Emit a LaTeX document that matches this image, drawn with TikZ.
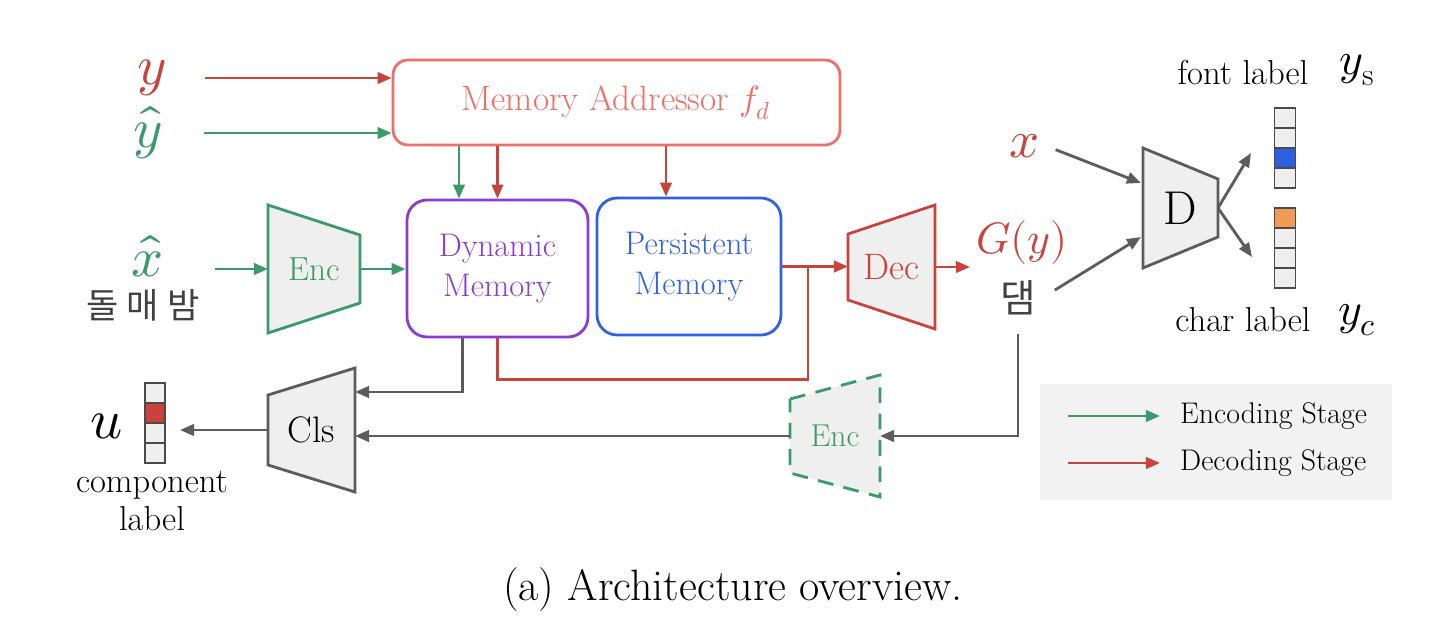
\documentclass[tikz,border=0pt]{standalone}
\usepackage{fontspec}
\usepackage{unicode-math}
\setmathfont{Latin Modern Math}
\newfontfamily\krfont{Noto Sans CJK KR}
\usetikzlibrary{arrows.meta,calc,positioning}

\definecolor{encgreen}{HTML}{3B9A6C}
\definecolor{decred}{HTML}{C7433C}
\definecolor{addrred}{HTML}{EC6F68}
\definecolor{dynpurple}{HTML}{8A3CCF}
\definecolor{perblue}{HTML}{2F62E3}
\definecolor{netgray}{HTML}{5C5C5C}
\definecolor{netfill}{HTML}{EFEFEF}
\definecolor{legendbg}{HTML}{F2F2F2}
\definecolor{hotorange}{HTML}{F09A55}
\definecolor{hotblue}{HTML}{2E5FE0}
\definecolor{hotred}{HTML}{C8433C}

\newcommand{\fsz}[2]{\fontsize{#1pt}{#2pt}\selectfont}

% trapezoid block: name, x left, x right, y centre, half height left, half height right, style, text
\newcommand{\trapblock}[8]{%
  \draw[#7] (#2,#4-#5) -- (#3,#4-#6) -- (#3,#4+#6) -- (#2,#4+#5) -- cycle;
  \coordinate (#1-w) at (#2,#4);
  \coordinate (#1-e) at (#3,#4);
  \node (#1) at ({(#2+#3)/2},#4) {#8};
}

\tikzset{
  arr/.style={-{Triangle[length=8pt,width=6.5pt]}, line width=1.6pt},
  encarr/.style={arr, encgreen},
  decarr/.style={arr, decred},
  grayarr/.style={arr, netgray},
  membox/.style={draw, line width=1.6pt, rounded corners=0.4cm, align=center,
    minimum height=2.74cm, font=\fsz{18.6}{23}},
  netblock/.style={line width=1.6pt, fill=netfill},
  cell/.style={draw=netgray!80!black, line width=1.1pt, minimum width=0.42cm,
    minimum height=0.4cm, inner sep=0pt},
  lbl/.style={font=\fsz{19.7}{20}, inner sep=1pt},
}

\begin{document}
\begin{tikzpicture}[x=0.02cm,y=-0.02cm]
\useasboundingbox (0,0) rectangle (1448,622);

% inputs
\node[text=decred, font=\fsz{32}{32}] (ylab) at (152,78) {$y$};
\node[text=encgreen, font=\fsz{32}{32}] (yhat) at (148,133) {$\hat{y}$};
\node[text=encgreen, font=\fsz{32}{32}] (xhat) at (148,256) {$\widehat{x}$};
\node[text=netgray!70!black, font=\krfont\fsz{20}{20}] (krin) at (143,305) {돌 매 밤};
\coordinate (xhat-out) at (215,269);

% memory
\node[draw=addrred, text=addrred, line width=1.6pt, rounded corners=0.3cm,
  minimum width=8.94cm, minimum height=1.7cm, font=\fsz{20}{20}] (addr) at (616.5,102.5) {Memory Addressor $f_d$};
\node[membox, draw=dynpurple, text=dynpurple, minimum width=3.62cm] (dm) at (497.5,268.5) {Dynamic\\Memory};
\node[membox, draw=perblue, text=perblue, minimum width=3.68cm] (pm) at (689,266.5) {Persistent\\Memory};

% blocks
\trapblock{encA}{268}{360}{269}{64}{34}{netblock, draw=encgreen}{\fsz{19}{19}\color{encgreen}Enc}
\trapblock{dec}{848}{935}{267}{33}{62}{netblock, draw=decred}{\fsz{21}{21}\color{decred}Dec}
\trapblock{D}{1143}{1218}{208}{60}{29}{netblock, draw=netgray}{\fsz{27}{27}D}
\trapblock{cls}{268}{355}{430}{35}{62}{netblock, draw=netgray}{\fsz{21}{21}Cls}
\trapblock{encB}{790}{880}{436}{37}{61}{netblock, draw=encgreen, dashed, dash pattern=on 9pt off 6pt}{\fsz{18}{18}\color{encgreen}Enc}

% generated output
\node[text=decred, font=\fsz{25}{25}] (gy) at (1022,243) {$G(y)$};
\node[text=netgray!70!black, font=\krfont\fsz{22}{22}] (dam) at (1018,298) {댐};
\node[text=decred, font=\fsz{30}{30}] (xr) at (1025,146) {$x$};

% label vectors
\foreach \i/\c in {0/netfill,1/netfill,2/hotblue,3/netfill}
  \node[cell, fill=\c] (fs\i) at (1285,{118+20*\i}) {};
\foreach \i/\c in {0/hotorange,1/netfill,2/netfill,3/netfill}
  \node[cell, fill=\c] (ch\i) at (1285,{218+20*\i}) {};
\foreach \i/\c in {0/netfill,1/hotred,2/netfill,3/netfill}
  \node[cell, fill=\c, minimum width=0.4cm] (uv\i) at (155,{393+20*\i}) {};

\node[lbl] (fontlbl) at (1243,72) {font label};
\node[font=\fsz{26}{26}] (ys) at (1357,70) {$y_{\mathrm{s}}$};
\node[lbl] (charlbl) at (1243,320) {char label};
\node[font=\fsz{26}{26}] (yc) at (1357,320) {$y_c$};
\node[font=\fsz{32}{32}] (ulab) at (107,426) {$u$};
\node[lbl, align=center, font=\fsz{19.7}{22}] (complbl) at (152,501) {component\\label};

% encoding / decoding paths
\draw[decarr] ([xshift=0.65cm]ylab.east) -- (addr.west |- ylab);
\draw[encarr] ([xshift=0.7cm]yhat.east) -- (addr.west |- yhat);
\draw[encarr] (addr.south -| 459,0) -- (dm.north -| 459,0);
\draw[decarr] (dm.north |- addr.south) -- (dm.north);
\draw[decarr] (addr.south -| 666,0) -- (pm.north -| 666,0);
\draw[encarr] (xhat-out) -- (encA-w);
\draw[encarr] (encA-e) -- (dm.west |- encA-e);
\coordinate (jn) at (808,266.5);
\draw[decred, line width=1.6pt] (dm.south) -- ++(0,41) -| (jn);
\draw[decarr] (pm.east) -- (dec-w |- pm.east);
\draw[decarr] (dec-e) -- (gy.west |- dec-e);

% discriminator
\coordinate (d-in1) at (1141,183);
\coordinate (d-in2) at (1141,237);
\coordinate (fs-in) at (1251,153);
\coordinate (ch-in) at (1252,257);
\draw[grayarr, shorten <=0.2cm] (xr.east) -- (d-in1);
\draw[grayarr, shorten <=0.3cm] (dam.east) -- (d-in2);
\draw[grayarr] (D-e) -- (fs-in);
\draw[grayarr] (D-e) -- (ch-in);

% classifier
\coordinate (cls-in1) at (355,392);
\coordinate (u-tip) at (180,430);
\draw[grayarr] ($(dm.south west)!0.31!(dm.south east)$) |- (cls-in1);
\draw[grayarr, shorten <=0.25cm] (dam.south) |- (encB-e);
\draw[grayarr] (encB-w) -- (cls-e |- encB-w);
\draw[grayarr] (cls-w) -- (u-tip);

% legend
\node[fill=legendbg, minimum width=7.04cm, minimum height=2.32cm, inner sep=0pt] (legend) at (1216,442) {};
\coordinate (lg1a) at (1068,416);
\coordinate (lg1b) at (1160,416);
\coordinate (lg2a) at (1068,463);
\coordinate (lg2b) at (1160,463);
\draw[encarr] (lg1a) -- (lg1b);
\draw[decarr] (lg2a) -- (lg2b);
\node[anchor=west, font=\fsz{17}{17}] (enclg) at (1174,416) {Encoding Stage};
\node[anchor=west, font=\fsz{17}{17}] (declg) at (1174,463) {Decoding Stage};

\node[font=\fsz{25}{25}] (caption) at (733,590) {(a) Architecture overview.};
\end{tikzpicture}
\end{document}
